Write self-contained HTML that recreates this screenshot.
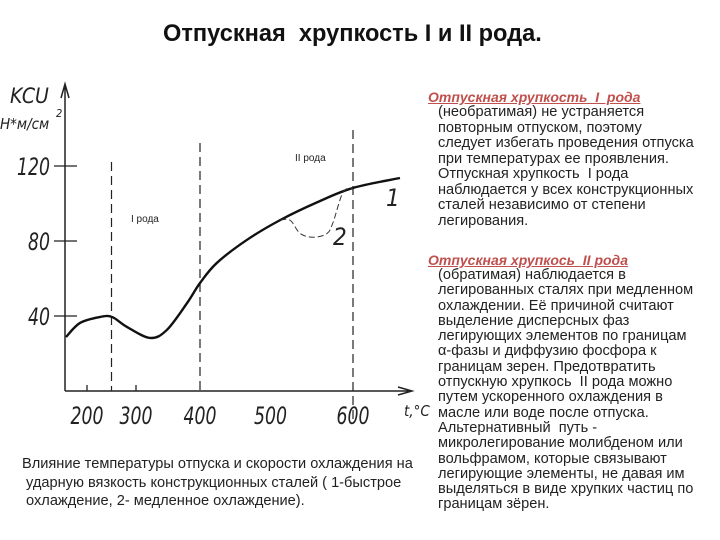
<!DOCTYPE html>
<html><head><meta charset="utf-8"><style>
body{margin:0;width:720px;height:540px;background:#fff;overflow:hidden;position:relative;font-family:"Liberation Sans","DejaVu Sans",sans-serif}
.t{position:absolute;white-space:nowrap;color:#222}
.h{position:absolute;white-space:nowrap;color:#c0504d;font-style:italic;font-weight:bold;text-decoration:underline;font-size:14px}
.p{position:absolute;left:438px;font-size:14.6px;color:#222;white-space:nowrap}
</style></head><body>
<div class="t" style="left:163px;top:21px;font-size:23.6px;font-weight:bold;color:#111">Отпускная&nbsp; хрупкость I и II рода.</div>
<svg width="720" height="540" style="position:absolute;left:0;top:0" id="ch">
<g font-family="DejaVu Sans Condensed, DejaVu Sans, sans-serif" font-style="italic" fill="#222">
<text x="10" y="103" font-size="21">KCU</text>
<text x="0" y="129" font-size="15">Н*м/см</text>
<text x="56" y="117" font-size="11">2</text>
<text x="404" y="416" font-size="15">t,°C</text>
</g>
</svg>
<div class="t" style="left:22px;top:455px;font-size:14.6px;line-height:18.5px">Влияние температуры отпуска и скорости охлаждения на<br>&nbsp;ударную вязкость конструкционных сталей ( 1-быстрое<br>&nbsp;охлаждение, 2- медленное охлаждение).</div>
<div class="h" style="left:428px;top:89px">Отпускная хрупкость&nbsp; I&nbsp; рода</div>
<div class="p" style="top:105px;line-height:15.5px">(необратимая) не устраняется<br>повторным отпуском, поэтому<br>следует избегать проведения отпуска<br>при температурах ее проявления.<br>Отпускная хрупкость&nbsp; I рода<br>наблюдается у всех конструкционных<br>сталей независимо от степени<br>легирования.</div>
<div class="h" style="left:428px;top:252px">Отпускная хрупкось&nbsp; II рода</div>
<div class="p" style="top:268px;line-height:15.3px">(обратимая) наблюдается в<br>легированных сталях при медленном<br>охлаждении. Её причиной считают<br>выделение дисперсных фаз<br>легирующих элементов по границам<br>α-фазы и диффузию фосфора к<br>границам зерен. Предотвратить<br>отпускную хрупкось&nbsp; II рода можно<br>путем ускоренного охлаждения в<br>масле или воде после отпуска.<br>Альтернативный&nbsp; путь -<br>микролегирование молибденом или<br>вольфрамом, которые связывают<br>легирующие элементы, не давая им<br>выделяться в виде хрупких частиц по<br>границам зёрен.</div>
<script>
const temps1=[170,190,227,251,282,322,348,380,400,422,461,505,554,600,661];
const kcu1=[28.8,36.3,39.5,39.5,34.1,28.3,32.5,47,57.6,68.3,80.5,91.2,100.8,108.3,113.6];
const temps2=[505,518,531,548,566,574,587,600];
const kcu2=[91.2,91,84,82,84,90,106,108.3];
const yTicks=[40,80,120];
const xTicks=[200,300,400,500,600];
const xTickMarks=[200,300];
const dashTemps=[250,400,600];
const NS='http://www.w3.org/2000/svg';
const svg=document.getElementById('ch');
function X(t){const d=[150,200,300,400,600,700],r=[52,87,136,200,353,430];
 for(let i=0;i<d.length-1;i++){if(t<=d[i+1]||i==d.length-2){return r[i]+(t-d[i])/(d[i+1]-d[i])*(r[i+1]-r[i]);}}}
function Y(v){return 391-v*1.875;}
function el(n,a){const e=document.createElementNS(NS,n);for(const k in a)e.setAttribute(k,a[k]);svg.appendChild(e);return e;}
let e;
e=el('path',{d:'M65,391 V86 M61,98 L65,84 L69,98',stroke:'#222','stroke-width':1.5,fill:'none'});

e=el('path',{d:'M65,391 H412 M398,387 L412,391 L398,395',stroke:'#222','stroke-width':1.5,fill:'none'});

yTicks.forEach(v=>{
 const t=el('line',{x1:54,x2:77,y1:Y(v),y2:Y(v),stroke:'#222','stroke-width':1.3});
 
 const l=el('text',{x:50,y:Y(v)+9,'text-anchor':'end','font-size':24,'font-style':'italic','font-family':'DejaVu Sans Condensed, DejaVu Sans, sans-serif',fill:'#222',transform:'scale(0.8,1) translate('+(50/0.8-50)+',0)'});
 l.textContent=v;
});
xTickMarks.forEach(v=>{const t=el('line',{x1:X(v),x2:X(v),y1:385,y2:391,stroke:'#222','stroke-width':1.3});
 });
xTicks.forEach(v=>{const cx=X(v)+(v==500?-6:0);
 const l=el('text',{x:cx/0.8,y:424,'text-anchor':'middle','font-size':24,'font-style':'italic','font-family':'DejaVu Sans Condensed, DejaVu Sans, sans-serif',fill:'#222',transform:'scale(0.8,1)'});
 l.textContent=v;});
const tops={250:162,400:143,600:130},bots={250:391,400:391,600:420};
dashTemps.forEach(v=>{const d=el('line',{x1:X(v),x2:X(v),y1:tops[v],y2:bots[v],stroke:'#222','stroke-width':1.2,'stroke-dasharray':'9,5'});
 });
function path(ts,vs){let s='';const p=ts.map((t,i)=>[X(t),Y(vs[i])]);
 s='M'+p[0][0]+','+p[0][1];
 for(let i=0;i<p.length-1;i++){const p0=p[i-1]||p[i],p1=p[i],p2=p[i+1],p3=p[i+2]||p2;
  s+=' C'+(p1[0]+(p2[0]-p0[0])/6)+','+(p1[1]+(p2[1]-p0[1])/6)+' '+(p2[0]-(p3[0]-p1[0])/6)+','+(p2[1]-(p3[1]-p1[1])/6)+' '+p2[0]+','+p2[1];}
 return s;}
e=el('path',{d:path(temps1,kcu1),stroke:'#111','stroke-width':2.4,fill:'none'});

e=el('path',{d:path(temps2,kcu2),stroke:'#333','stroke-width':1,fill:'none','stroke-dasharray':'6,3'});

function txt(x,y,s,fs,name,it){const t=el('text',{x:x,y:y,'font-size':fs,fill:'#222','font-family':it?'DejaVu Sans Condensed, DejaVu Sans, sans-serif':'Liberation Sans Narrow, Liberation Sans, sans-serif','font-style':it?'italic':'normal'});
 t.textContent=s;}
txt(131,222,'I рода',10,'region-label-type-1',false);
txt(295,161,'II рода',10,'region-label-type-2',false);
txt(386,206,'1',24,'curve-1-label',true);
txt(333,245,'2',24,'curve-2-label',true);
</script>
</body></html>
